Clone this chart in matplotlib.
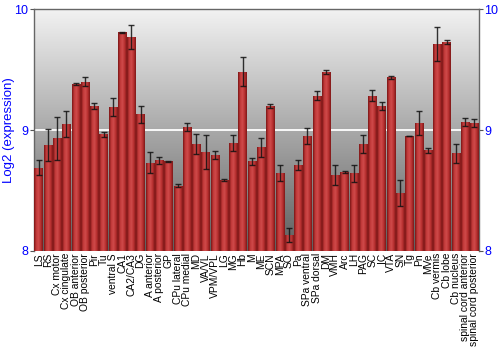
import numpy as np
import matplotlib

matplotlib.use("Agg")
import matplotlib.pyplot as plt
from matplotlib.colors import LinearSegmentedColormap

regions = [
    "LS", "RS", "Cx motor", "Cx cingulate", "OB anterior", "OB posterior",
    "Pir", "Tu", "ventral S", "CA1", "CA2/CA3", "DG", "A anterior",
    "A posterior", "GP", "CPu lateral", "CPu medial", "MD", "VA/VL",
    "VPM/VPL", "LG", "MG", "Hb", "M", "ME", "SCN", "MPA", "SO", "Pa",
    "SPa ventral", "SPa dorsal", "DM", "VMH", "Arc", "LH", "PAG", "SC", "IC",
    "VTA", "SN", "Tg", "Pn", "MVe", "Cb vermis", "Cb lobe", "Cb nucleus",
    "spinal cord anterior", "spinal cord posterior",
]
expression = [
    8.69, 8.876, 8.93, 9.05, 9.38, 9.40, 9.20, 8.965, 9.19, 9.81, 9.77, 9.13,
    8.73, 8.75, 8.74, 8.54, 9.025, 8.884, 8.815, 8.79, 8.586, 8.89, 9.48,
    8.74, 8.856, 9.199, 8.644, 8.133, 8.71, 8.95, 9.285, 9.481, 8.627, 8.652,
    8.644, 8.881, 9.285, 9.199, 9.436, 8.478, 8.95, 9.058, 8.834, 9.71, 9.727,
    8.807, 9.064, 9.058,
]
error = [
    0.066, 0.13, 0.18, 0.11, 0.005, 0.036, 0.023, 0.022, 0.073, 0.004, 0.10,
    0.072, 0.085, 0.028, 0.003, 0.014, 0.035, 0.086, 0.14, 0.033, 0.005,
    0.065, 0.12, 0.03, 0.076, 0.018, 0.064, 0.058, 0.043, 0.066, 0.034,
    0.014, 0.08, 0.011, 0.07, 0.075, 0.047, 0.036, 0.014, 0.108, 0.003,
    0.102, 0.02, 0.14, 0.017, 0.079, 0.033, 0.03,
]

BLUE = "#0000ff"

fig = plt.figure(figsize=(5, 3.5), dpi=100)
ax = fig.add_axes([0.068, 0.283, 0.89, 0.691])
ax.set_xlim(-0.5, len(regions) - 0.5)
ax.set_ylim(8, 10)

# grey background gradient
bg = LinearSegmentedColormap.from_list("bg", ["#5e5e5e", "#a9a9a9", "#f2f2f2"])
ax.imshow(np.linspace(0, 1, 256).reshape(-1, 1), cmap=bg, origin="lower",
          extent=(-0.5, len(regions) - 0.5, 8, 10), aspect="auto", zorder=0)
ax.axhline(9, color="white", lw=1.3, zorder=1)

# bars with horizontal cylinder shading
x = np.arange(len(regions))
bars = ax.bar(x, [v - 8 for v in expression], bottom=8, width=0.9,
              color="#b83030", edgecolor="none", zorder=2)
shade = LinearSegmentedColormap.from_list(
    "shade", ["#7a1515", "#c23a3a", "#cf4a4a", "#b83030", "#7e1818"])
grad = np.linspace(0, 1, 64).reshape(1, -1)
for b in bars:
    im = ax.imshow(grad, cmap=shade, aspect="auto", zorder=3,
                   extent=(b.get_x(), b.get_x() + b.get_width(), 8, b.get_y() + b.get_height()))
    im.set_clip_path(b)

ax.errorbar(x, expression, yerr=error, fmt="none", ecolor="#111111",
            elinewidth=1.0, capsize=2.2, capthick=1.0, alpha=0.85, zorder=4)

ax.set_xlim(-0.5, len(regions) - 0.5)
ax.set_ylim(8, 10)
ax.set_xticks(x)
ax.set_xticklabels(regions, rotation=90, fontsize=7.4, family="Liberation Sans")
ax.tick_params(axis="x", length=0, pad=1.5)
ax.set_yticks([8, 9, 10])
ax.tick_params(axis="y", which="both", direction="out", length=3, color="#555555",
               labelcolor=BLUE, labelsize=9, left=True, right=True,
               labelleft=True, labelright=True, pad=1)
for lab in ax.get_yticklabels():
    lab.set_family("Liberation Sans")
ax.set_ylabel("Log2 (expression)", color=BLUE, fontsize=9.5,
              family="Liberation Sans")
ax.yaxis.set_label_coords(-0.042, 0.5)
for side in ["left", "right", "top"]:
    ax.spines[side].set_color("#666666")
    ax.spines[side].set_linewidth(1.0)
ax.spines["bottom"].set_visible(False)

fig.savefig("out.png", dpi=100)
